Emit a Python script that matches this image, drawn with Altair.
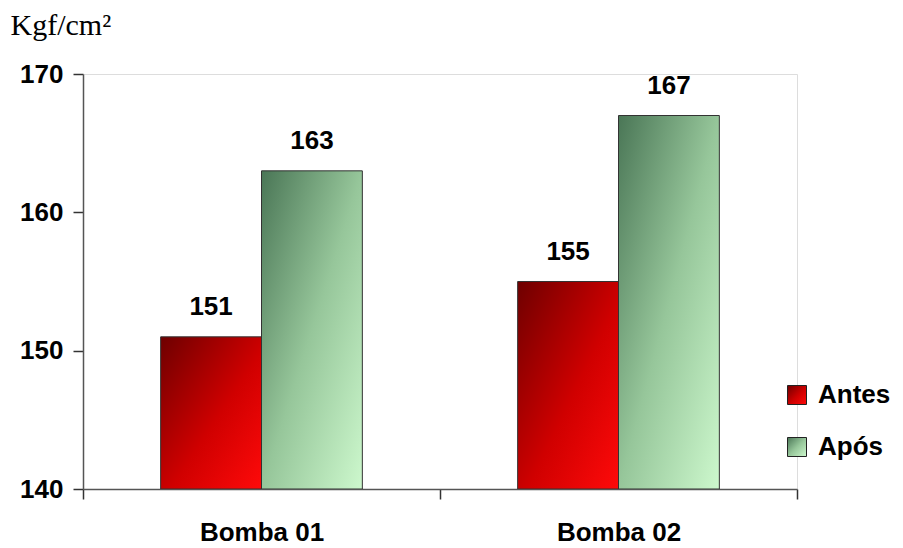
import altair as alt
import pandas as pd

categories = ["Bomba 01", "Bomba 02"]
series = ["Antes", "Após"]
antes = [151, 155]
apos = [163, 167]
y_ticks = [140, 150, 160, 170]

rows = []
for i, c in enumerate(categories):
    rows.append({"cat": c, "serie": "Antes", "val": antes[i]})
    rows.append({"cat": c, "serie": "Após", "val": apos[i]})
df = pd.DataFrame(rows)

red_grad = ("{gradient:'linear',x1:0,y1:0,x2:1,y2:1,stops:["
            "{offset:0,color:'#6e0000'},{offset:0.55,color:'#d00000'},{offset:1,color:'#ff0a0a'}]}")
green_grad = ("{gradient:'linear',x1:0,y1:0,x2:1,y2:1,stops:["
              "{offset:0,color:'#4a7656'},{offset:0.5,color:'#96c69a'},{offset:1,color:'#cdf8cd'}]}")

FONT = "Liberation Sans"

x = alt.X("cat:N", sort=categories, title=None,
          scale=alt.Scale(paddingInner=0, paddingOuter=0),
          axis=alt.Axis(labelAngle=0, labelFont=FONT, labelFontWeight="bold",
                        labelFontSize=26, labelColor="black", labelPadding=20,
                        tickBand="extent", tickSize=10, tickColor="#333",
                        domainColor="#555", domainWidth=1.5, tickWidth=1.5))
xoff = alt.XOffset("serie:N", sort=series,
                   scale=alt.Scale(paddingOuter=0.77, paddingInner=0))
y = alt.Y("val:Q", scale=alt.Scale(domain=[140, 170], nice=False, zero=False),
          axis=alt.Axis(values=y_ticks, grid=False, title="Kgf/cm²",
                        titleAngle=0, titleX=-73, titleY=-40,
                        titleAlign="left", titleBaseline="alphabetic",
                        titleFont="Liberation Serif", titleFontSize=30,
                        titleFontWeight="normal", titleColor="black",
                        labelFont=FONT, labelFontWeight="bold", labelFontSize=26,
                        labelColor="black", labelPadding=10, tickSize=10,
                        tickColor="#333", domainColor="#555", domainWidth=1.5,
                        tickWidth=1.5))

bars = alt.Chart(df).mark_bar(stroke="#333", strokeWidth=1, clip=True).encode(
    x=x, xOffset=xoff, y=y, y2=alt.datum(140),
    fill=alt.Fill("serie:N", sort=series,
                  scale=alt.Scale(domain=series,
                                  range=[alt.ExprRef(red_grad), alt.ExprRef(green_grad)]),
                  legend=alt.Legend(title=None, orient="none", legendX=701, legendY=308,
                                    symbolType="square", symbolSize=361,
                                    symbolStrokeColor="#222", symbolStrokeWidth=1,
                                    symbolOpacity=1,
                                    labelFont=FONT, labelFontWeight="bold",
                                    labelFontSize=26, labelColor="black",
                                    labelOffset=8, rowPadding=26, padding=0)),
)

labels = alt.Chart(df).mark_text(font=FONT, fontWeight="bold", fontSize=26,
                                 baseline="alphabetic", dy=-22, color="black").encode(
    x=x, xOffset=xoff, y=y, text=alt.Text("val:Q"))

chart = alt.layer(bars, labels).properties(
    width=714, height=415,
    autosize=alt.AutoSizeParams(type="none"),
    padding={"left": 75, "top": 66, "right": 98, "bottom": 59},
).configure_view(stroke=None).configure(background="white")

chart.save("out.html", embed_options={"renderer": "svg", "actions": False})
